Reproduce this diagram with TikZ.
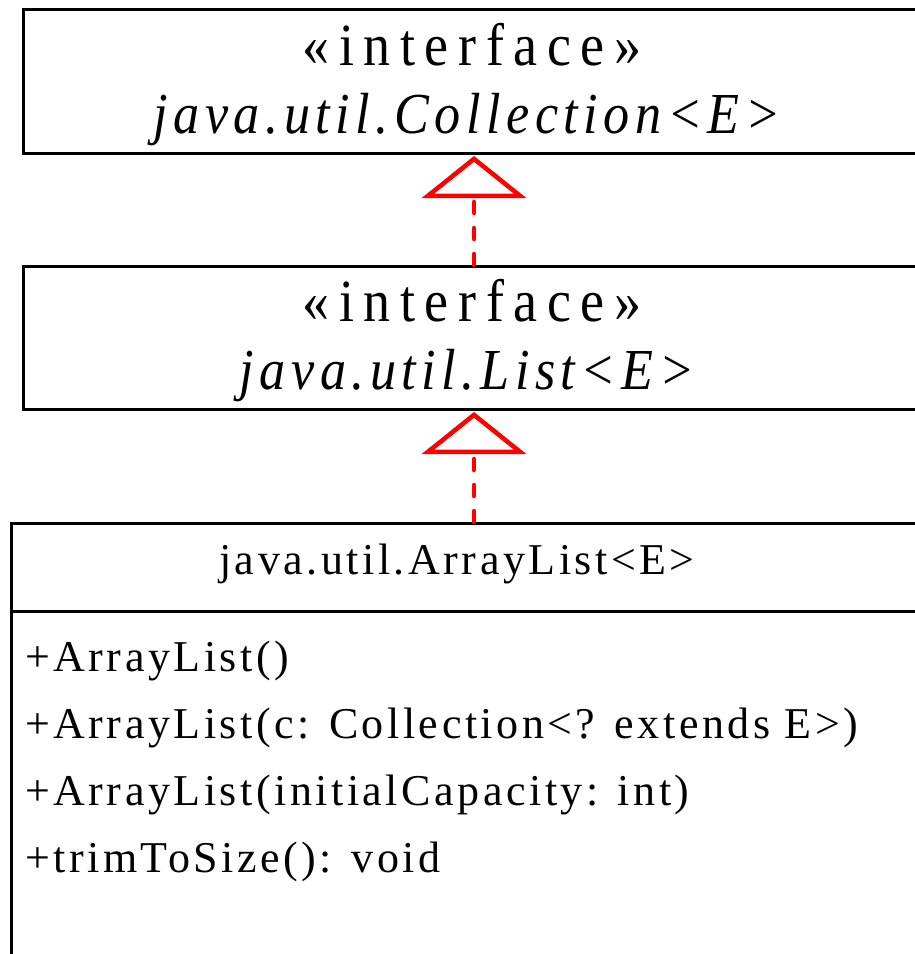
\documentclass[tikz,border=0pt]{standalone}
\usepackage{fontspec}
\setmainfont{Liberation Serif}
\newfontfamily\stereofont[FakeStretch=0.9, LetterSpace=16]{Liberation Serif}
\newfontfamily\namefont[FakeStretch=0.9, LetterSpace=9.5]{Liberation Serif}
\newfontfamily\memberfont[LetterSpace=8]{Liberation Serif}
\usetikzlibrary{arrows.meta}
\newlength{\du}
\setlength{\du}{1pt}

\tikzset{
  classbox/.style={draw=black, line width=3\du, rectangle, inner sep=0pt,
    anchor=north west, minimum width=940\du},
  realize/.style={draw=red, line width=4.5\du, line cap=round,
    dash pattern=on 11\du off 15\du, shorten >=1\du,
    -{Triangle[open, length=42pt, width=104pt, fill=white, line cap=butt, line join=miter]}},
  stereo/.style={anchor=base, inner sep=0pt, font=\fontsize{60}{68}\stereofont},
  iname/.style={anchor=base, inner sep=0pt, font=\fontsize{58}{66}\namefont\itshape},
  member/.style={anchor=base west, inner sep=0pt, font=\fontsize{44}{52}\memberfont},
}

\begin{document}
\begin{tikzpicture}
  \pgftransformxscale{1.000000}
  \pgftransformyscale{-1.000000}
  \useasboundingbox (0\du,0\du) rectangle (915\du,954\du);
  \clip (0\du,0\du) rectangle (915\du,954\du);
  % class boxes
  \node[classbox, minimum height=144\du] (coll) at (22\du,8\du) {};
  \node[classbox, minimum height=143\du] (list) at (22\du,265\du) {};
  \node[classbox, minimum height=480\du] (alist) at (10\du,522\du) {};
  \draw[line width=3\du] (alist.west |- 0,611\du) -- (alist.east |- 0,611\du);
  % setfont left to latex
  \node[stereo] (collstereo) at (472\du,65\du) {«interface»};
  \node[iname] (collname) at (467\du,133\du) {java.util.Collection<E>};
  \node[stereo] (liststereo) at (472\du,321\du) {«interface»};
  \node[iname] (listname) at (467\du,389\du) {java.util.List<E>};
  \node[member, anchor=base] (alistname) at (457\du,574\du) {java.util.ArrayList<E>};
  \node[member] (ctor1) at (25\du,671\du) {+ArrayList()};
  \node[member] (ctor2) at (25\du,738\du) {+ArrayList(c: Collection<? extends E>)};
  \node[member] (ctor3) at (25\du,805\du) {+ArrayList(initialCapacity: int)};
  \node[member] (trim) at (25\du,872\du) {+trimToSize(): void};
  % realizations
  \draw[realize] ([xshift=452\du]list.north west) -- ([xshift=452\du]coll.south west);
  \draw[realize] ([xshift=464\du]alist.north west) -- ([xshift=452\du]list.south west);
\end{tikzpicture}
\end{document}
